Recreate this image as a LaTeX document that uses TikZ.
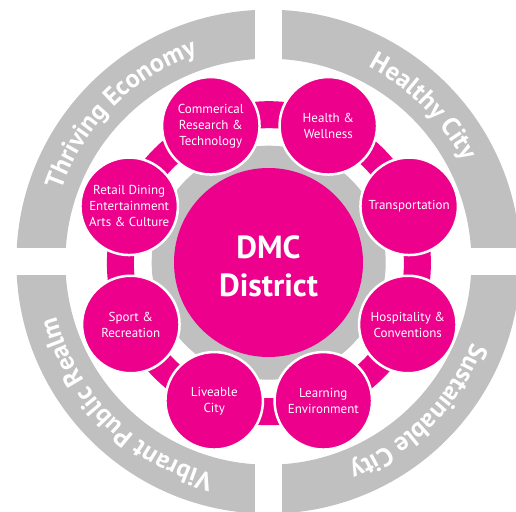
\documentclass[tikz,border=0pt]{standalone}
\usepackage{fontspec}
\setmainfont{PT Sans}
\usetikzlibrary{decorations.text}
\definecolor{dmcpink}{RGB}{236,0,140}
\definecolor{ringgray}{RGB}{192,192,192}
\begin{document}
\begin{tikzpicture}[x=1pt,y=1pt,
  hub/.style={circle, fill=dmcpink, text=white, minimum size=189pt, inner sep=0pt, align=center,
    font=\bfseries\fontsize{32}{38}\selectfont},
  theme/.style={circle, fill=dmcpink, draw=white, line width=2.5pt, text=white, minimum size=97.5pt,
    inner sep=0pt, align=center, font=\fontsize{13}{16}\selectfont},
  ringtext/.style={decorate, decoration={text along path, text align=center, text color=white,
    text={|\bfseries\fontsize{26}{26}\selectfont|#1}}}
]
\useasboundingbox (-268.4pt,-249.3pt) rectangle (247.6pt,261.7pt);
% outer ring quadrants
\fill[ringgray, even odd rule] (0,0) circle[radius=252pt] (0,0) circle[radius=203pt];
\fill[white] (-13.4pt,-260pt) rectangle (13.4pt,260pt);
\fill[white] (-260pt,-13.4pt) rectangle (260pt,13.4pt);
% ring labels
\path[ringtext={Thriving Economy}] (180:219pt) arc[start angle=180, end angle=90, radius=219pt];
\path[ringtext={Healthy City}] (90:219pt) arc[start angle=90, end angle=0, radius=219pt];
\path[ringtext={Sustainable City}] (0:219pt) arc[start angle=0, end angle=-90, radius=219pt];
\path[ringtext={Vibrant Public Realm}] (-90:219pt) arc[start angle=270, end angle=180, radius=219pt];
% inner ring and gray disc
\draw[dmcpink, line width=27pt] (0.5pt,-1.5pt) circle[radius=148.5pt];
\fill[ringgray] (0.3pt,-1pt) circle[radius=117pt];
% hub
\node[hub] (dmc) at (0.1pt,-0.8pt) {\rule{0pt}{30pt}DMC\\District};
% themes
\node[theme] (commercial) at (-57.6pt,135.9pt) {Commerical\\Research \&\\Technology};
\node[theme] (health) at (59.9pt,135.9pt) {Health \&\\Wellness};
\node[theme] (transport) at (140.8pt,55.4pt) {Transportation};
\node[theme] (hospitality) at (139.4pt,-62.8pt) {Hospitality \&\\Conventions};
\node[theme] (learning) at (54.9pt,-139.1pt) {Learning\\Environment};
\node[theme] (liveable) at (-54.2pt,-139.1pt) {Liveable\\City};
\node[theme] (sport) at (-137.6pt,-62.8pt) {Sport \&\\Recreation};
\node[theme] (retail) at (-139.2pt,55.4pt) {Retail Dining\\Entertainment\\Arts \& Culture};
\end{tikzpicture}
\end{document}
